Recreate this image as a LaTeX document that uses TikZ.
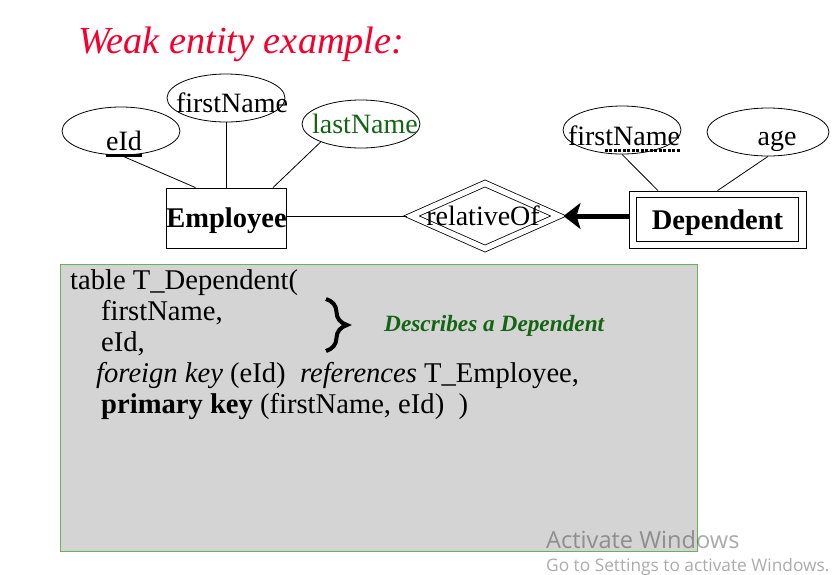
\documentclass[tikz,border=0pt]{standalone}
\usepackage{fontspec}
\setmainfont{Liberation Serif}
\newfontfamily\winfont{Open Sans}
\usetikzlibrary{shapes.geometric,arrows.meta,decorations.pathreplacing}
\definecolor{titlered}{RGB}{245,0,45}
\definecolor{attrgreen}{RGB}{20,100,20}
\definecolor{boxgray}{RGB}{212,212,212}
\definecolor{boxgreen}{RGB}{110,175,95}

\begin{document}
\begin{tikzpicture}[
  x=1pt, y=-1pt,
  attr/.style={ellipse, draw, line width=0.8pt, minimum width=118pt, minimum height=48pt, inner sep=0pt},
  attrtext/.style={anchor=base, inner sep=0pt, font=\fontsize{28}{30}\selectfont},
  entity/.style={rectangle, draw, line width=0.8pt, inner sep=0pt, text depth=0pt, font=\fontsize{28.5}{30}\selectfont\bfseries},
  weakrel/.style={diamond, draw, line width=0.8pt, double, double distance=5.5pt, inner sep=0pt, outer sep=3.5pt},
  codeline/.style={anchor=base west, inner sep=0pt, font=\fontsize{28.6}{31}\selectfont},
  link/.style={line width=0.8pt}
]
\useasboundingbox (0,0) rectangle (838,574);

\node[anchor=base west, inner sep=0pt, text=titlered, font=\fontsize{38.3}{40}\selectfont\itshape] (title) at (78,53) {Weak entity example:};

% entities and relationship
\node[entity, minimum width=119pt, minimum height=60pt] (Employee) at (226.5,218) {Employee};
\node[entity, minimum width=177pt, minimum height=57pt] (Dependent) at (717.5,219.5) {Dependent};
\draw[link] ([shift={(8pt,-7pt)}]Dependent.north west) rectangle ([shift={(-8pt,7pt)}]Dependent.south east);
\node[weakrel, minimum width=150pt, minimum height=68pt] (relativeOf) at (485,216) {};
\node[attrtext] (relLbl) at (483,225) {relativeOf};

% attributes
\node[attr] (eIdAttr) at (121,131) {};
\node[attrtext] (eIdText) at (124,150) {eId};
\draw[line width=3pt] ([yshift=-5pt]eIdText.base west) -- ([yshift=-5pt]eIdText.base east);
\node[attr] (fnAttr) at (226,98) {};
\node[attrtext] (fnText) at (232,112) {firstName};
\node[attr] (lnAttr) at (361,124) {};
\node[attrtext, text=attrgreen] (lnText) at (365,133) {lastName};
\node[attr] (depFnAttr) at (622,130) {};
\node[attrtext] (depFnText) at (624,145) {firstName};
\draw[line width=3pt, dash pattern=on 3pt off 1.5pt] ([xshift=37pt,yshift=-5pt]depFnText.base west) -- ([yshift=-5pt]depFnText.base east);
\node[attr, minimum width=122pt] (ageAttr) at (768,132) {};
\node[attrtext] (ageText) at (777,145) {age};

\draw[link] (eIdAttr.south) -- ([xshift=-31pt]Employee.north);
\draw[link] (fnAttr) -- (fnAttr |- Employee.north);
\draw[link] (lnAttr.204) -- ([xshift=46.5pt]Employee.north);
\draw[link] (depFnAttr.south) -- ([xshift=-59.5pt]Dependent.north);
\draw[link] (ageAttr.south) -- (Dependent.north);

\draw[link] (Employee.east |- relativeOf.west) -- (relativeOf.west);
\draw[-{Stealth[length=17pt,width=26pt,inset=4pt]}, line width=5pt] (Dependent.west |- relativeOf.east) -- (relativeOf.east);

% table text
\node[draw=boxgreen, fill=boxgray, line width=1pt, minimum width=637pt, minimum height=287pt, inner sep=0pt, anchor=north west] (codeBox) at (60,264) {};
\node[codeline] (ln1) at (70,289) {table T\_Dependent(};
\node[codeline] (ln2) at (101,320) {firstName,};
\node[codeline] (ln3) at (101,351) {eId,};
\node[codeline] (ln4) at (96,382) {\textit{foreign key} (eId)\ \ \textit{references} T\_Employee,};
\node[codeline] (ln5) at (101,413) {\textbf{primary key} (firstName, eId)\ \ )};
\draw[decorate, decoration={brace, amplitude=21pt}, line width=4pt] (326,299) -- (326,351);
\node[anchor=base west, inner sep=0pt, text=attrgreen, font=\fontsize{23.3}{25}\selectfont\bfseries\itshape] (descLbl) at (384,331) {Describes a Dependent};

\node[anchor=base west, inner sep=0pt, text=black, text opacity=0.33, font=\winfont\fontsize{23.6}{25}\selectfont] (winMain) at (546,548) {Activate Windows};
\node[anchor=base west, inner sep=0pt, text=black, text opacity=0.33, font=\winfont\fontsize{17.3}{19}\selectfont] (winSub) at (546,571) {Go to Settings to activate Windows.};
\end{tikzpicture}
\end{document}
